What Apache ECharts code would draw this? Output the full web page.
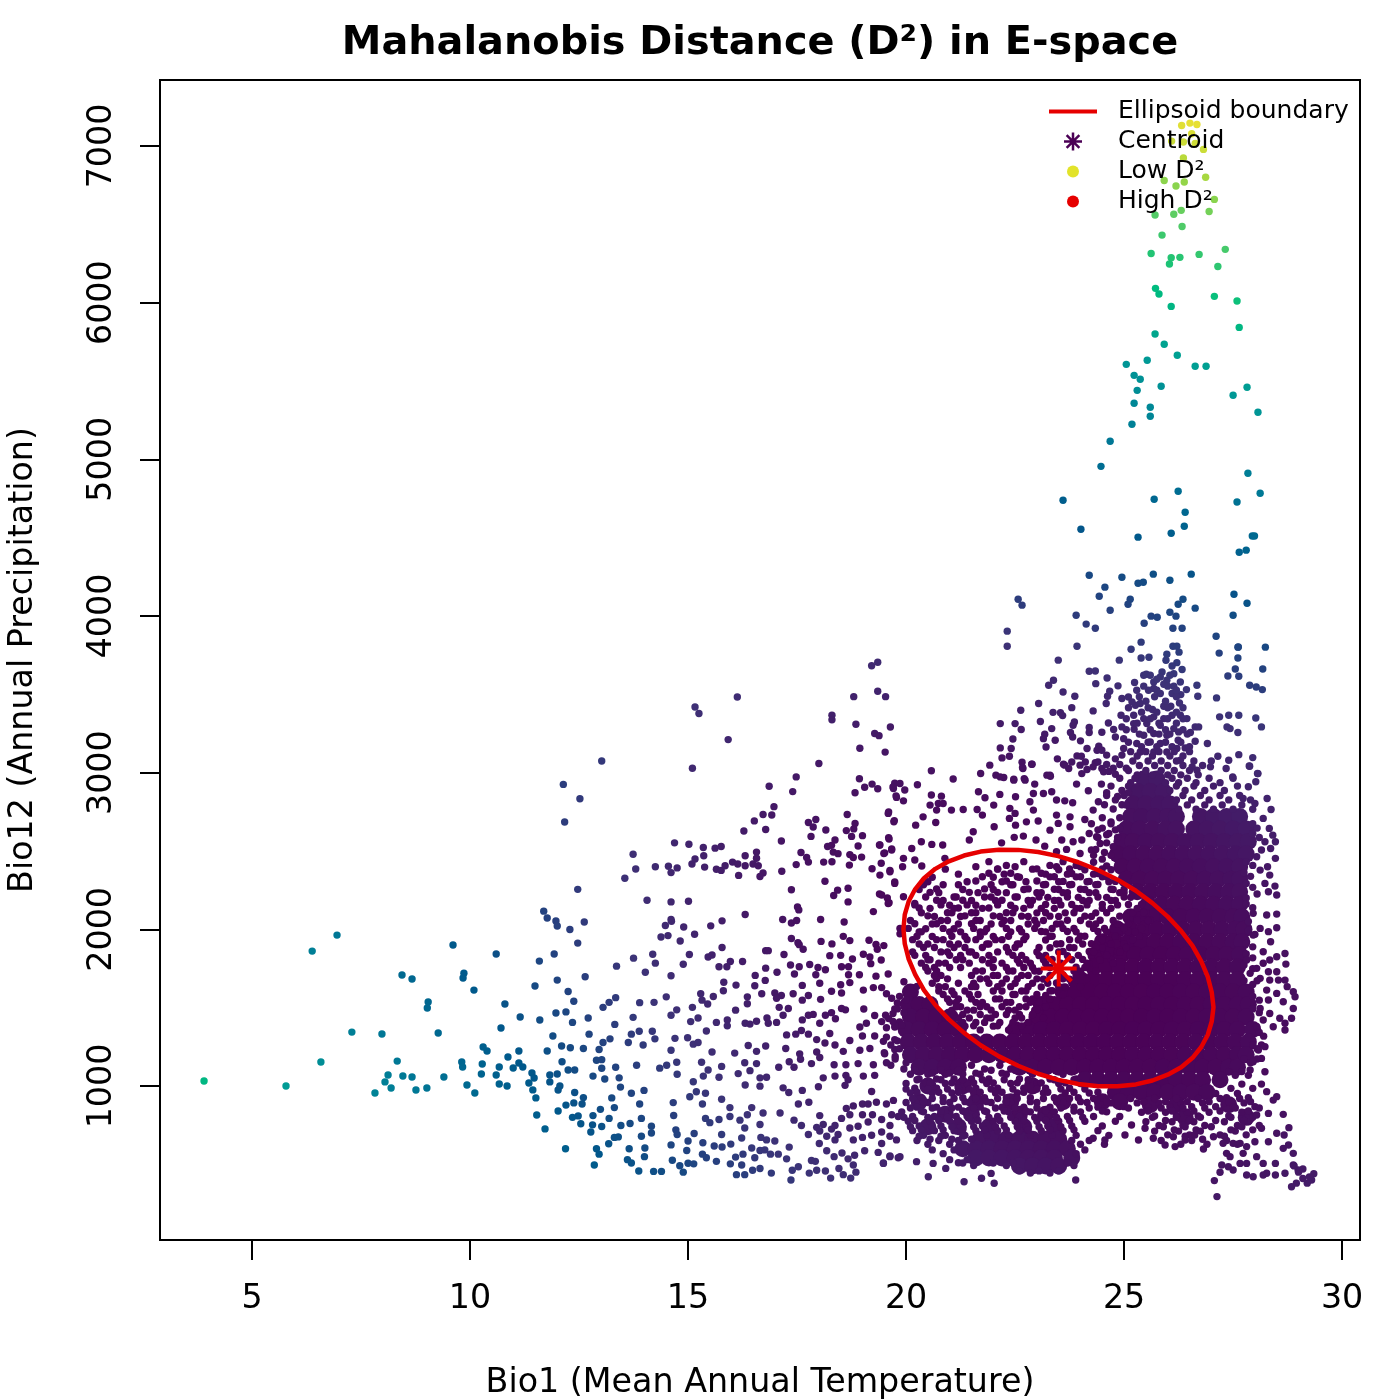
<!DOCTYPE html>
<html><head><meta charset="utf-8">
<style>html,body{margin:0;padding:0;background:#fff}#c{width:1400px;height:1400px}</style>
<script src="https://cdn.jsdelivr.net/npm/echarts@6/dist/echarts.min.js"></script>
</head><body><div id="c"></div>
<script>
const xTicks=[5,10,15,20,25,30];
const yTicks=[1000,2000,3000,4000,5000,6000,7000];
const centroid=[23.5,1750];
const ellipse=[[27.05,1503],[27.01,1412],[26.92,1327],[26.77,1249],[26.57,1180],[26.31,1120],[26.0,1072],[25.65,1035],[25.27,1010],[24.85,998],[24.41,999],[23.95,1013],[23.49,1039],[23.03,1078],[22.57,1129],[22.13,1189],[21.71,1260],[21.33,1339],[20.98,1425],[20.67,1517],[20.41,1612],[20.21,1711],[20.06,1810],[19.97,1908],[19.94,2003],[19.97,2094],[20.06,2179],[20.21,2257],[20.41,2326],[20.67,2386],[20.98,2434],[21.33,2471],[21.71,2496],[22.13,2508],[22.57,2507],[23.03,2493],[23.49,2467],[23.95,2428],[24.41,2377],[24.85,2317],[25.27,2246],[25.65,2167],[26.0,2081],[26.31,1989],[26.57,1894],[26.77,1795],[26.92,1696],[27.01,1598],[27.05,1503]];
// readings as x,y pairs
const topPts=[26.32,7131,26.51,7146,26.67,7137,26.55,7078,26.09,7031,26.36,7025,26.63,7016,26.82,6978,26.36,6923,25.92,6780,26.87,6800,26.19,6744,26.38,6770,27.07,6659,26.95,6582,25.71,6559,26.14,6564,26.31,6589,26.33,6486,25.87,6431,25.62,6314,26.08,6287,26.04,6247,26.28,6289,26.72,6308,27.32,6340,27.15,6231,25.72,6091,25.80,6055,27.07,6040,27.59,6010,26.08,5976,27.64,5842,25.71,5800,25.92,5734,26.22,5664,25.05,5606,25.53,5632,26.63,5594,26.88,5594,25.23,5536,25.37,5511,25.30,5440,25.85,5466,27.82,5460,27.50,5409,25.23,5358,25.60,5332,25.60,5275,28.07,5300,25.18,5224,24.68,5115,24.47,4955,27.84,4911,26.24,4796,25.69,4745,23.60,4739,27.59,4727,28.12,4783,26.40,4662,26.38,4573,26.08,4528,24.01,4554,25.32,4503,27.94,4510,27.99,4510,27.80,4420,27.64,4407,24.20,4260,24.95,4247,25.67,4267,26.54,4267,25.32,4209,25.44,4215,26.05,4228,24.56,4184,24.43,4126,25.14,4107,25.09,4075,22.57,4107,22.66,4069,27.52,4139,27.82,4081,26.35,4107,26.24,4075,26.63,4050,24.68,4037,26.05,4024,27.50,4005,23.90,4005,26.19,3999,25.62,3999,25.76,3992,24.13,3948,24.34,3922,22.32,3903,25.46,3954,26.12,3922,26.33,3922,27.11,3871,22.32,3807,23.92,3807,28.24,3801,27.61,3801,25.39,3833,25.16,3788,26.12,3807,26.21,3807,27.18,3763,27.61,3732,26.26,3769,25.98,3756,25.39,3732,25.57,3737,23.49,3718,24.89,3718];
const tailPts=[3.90,1032,5.78,1000,6.58,1153,6.38,1861,6.95,1963,7.29,1344,7.98,1332,8.33,1159,8.12,1070,8.05,1026,8.19,987,7.82,955,8.46,1064,8.67,1057,8.76,974,9.01,987,9.40,1057,9.27,1338,8.44,1708,8.67,1683,9.04,1536,9.02,1498,9.61,1900,10.6,1842,9.86,1720,9.84,1689,10.09,1612,10.80,1523,10.71,1370,11.15,1440,11.6,1421,11.49,1638,11.59,1797,11.93,1842,11.69,2116,11.77,2072,11.97,2053,12.0,2021,12.0,1676,11.97,1466,11.9,1319,9.81,1153,9.83,1121,10.28,1140,10.26,1077,9.93,1006,10.11,955,10.3,1249,10.39,1223,10.87,1185,10.67,1121,10.6,1070,10.67,1013,10.85,1000,10.99,1115,11.12,1147,11.21,1121,11.12,1223,11.42,1083,11.47,1051,11.35,1019,11.44,975,11.51,924,11.53,815,11.72,726,11.77,1223,11.83,1070,12.0,1077,11.83,1026,12.02,974,12.02,840];
const midPts=[13.02,3074,12.14,2925,12.52,2833,12.17,2685,15.16,3419,15.25,3378,16.13,3483,15.92,3211,15.10,3028,18.30,3366,18.30,3337,18.80,3485,19.21,3682,19.35,3705,19.35,3520,19.53,3485,18.85,3309,19.28,3250,19.38,3236,19.64,3291,18.94,3156,19.52,3131,18.0,3058,17.48,2973,16.86,2913,17.40,2879,18.93,2961,18.83,2872,19.05,2907,19.22,2927,19.35,2897,19.74,2932,19.70,2909,19.77,2852,16.97,2783,16.72,2733,16.92,2730,16.52,2692,16.28,2628,16.78,2637,14.69,2552,15.02,2543,15.35,2522,15.62,2518,15.76,2529,13.74,2479,13.55,2326,13.80,2385,14.25,2399,14.55,2403,14.61,2362,14.75,2392,15.09,2417,15.16,2449,15.36,2470,15.38,2397,15.65,2383,15.76,2376,15.85,2406,16.02,2429,16.14,2417,16.31,2470,16.31,2406,16.57,2493,16.57,2454,16.49,2417,16.61,2406,16.72,2360,16.65,2337,16.16,2344,17.15,2371,17.14,2564,17.59,2490,17.72,2458,17.76,2429,17.48,2413,17.76,2682,17.93,2701,17.87,2653,18.16,2634,17.82,2593,18.65,2733,18.83,2676,18.80,2641,18.63,2630,18.75,2593,19.0,2598,18.37,2570,18.2,2529,18.29,2536,18.33,2493,18.44,2483,18.9,2532,18.71,2477,18.79,2458,18.98,2461,18.7,2410,18.11,2429,18.3,2431,19.6,2749,19.73,2694,19.6,2584,19.39,2538,19.51,2488,19.67,2513,19.43,2422,19.22,2387,19.63,2376,19.74,2303,18.14,2307,18.43,2250,18.34,2216,18.67,2262,18.67,2175,17.37,2253,19.39,2225,19.57,2200,19.61,2170,19.25,2113,12.47,2255,14.06,2186,14.61,2175,15.01,2179,17.51,2143,17.54,2124,16.31,2095,17.17,2063,17.37,2040,17.49,2056,18.04,2063,18.58,2047,12.62,2047,12.29,1999,12.47,1912,14.61,2063,14.62,2051,14.48,2024,14.9,2015,15.52,2022,15.78,2054,14.54,1960,14.38,1951,14.82,1925,15.15,1969,17.37,1941,17.52,1914,17.55,1902,17.64,1873,18.05,1923,18.3,1907,18.56,1955,18.71,1928,19.15,1930,19.31,1903,19.34,1873,19.49,1896,19.86,2006,19.86,1971,15.78,1884,16.78,1864,16.84,1864,17.2,1839,18.25,1832,18.5,1834,15.03,1839,14.19,1841,13.75,1816,15.46,1823,15.55,1836,14.25,1784,14.89,1777,15.97,1795,15.89,1761,15.71,1761,16.25,1795,13.36,1765,14.02,1726,14.61,1704,12.64,1697,17.35,1772,17.55,1761,17.79,1775,17.98,1756,18.15,1742,17.44,1715,17.93,1710,16.78,1752,17.04,1726,16.54,1706,16.77,1674,18.52,1761,18.68,1761,18.68,1710,18.93,1710,18.71,1660,18.77,1811,19.02,1841,19.17,1823,19.19,1781,19.43,1804,19.31,1701,19.59,1715,15.82,1662,16.1,1644,16.53,1640,15.81,1608,18.02,1656,17.62,1642,18.5,1646,18.52,1594,18.29,1605,19.02,1612,19.25,1628,19.44,1628,12.25,1603,12.38,1541,13.34,1564,13.19,1534,13.05,1502,13.89,1532,14.22,1534,14.5,1569,15.29,1589,15.58,1571,15.32,1548,15.45,1523,16.36,1569,16.36,1525,16.69,1589,16.99,1594,17.14,1578,17.03,1560,17.41,1589,17.62,1548,17.76,1578,18.04,1553,19.55,1589,19.67,1560,19.74,1491,12.2,1473,12.35,1406,12.71,1434,13.32,1393,13.74,1438,14.74,1486,14.61,1452,15.1,1502,15.23,1434,15.06,1411,15.65,1406,15.9,1422,16.09,1484,15.9,1384,16.31,1400,16.42,1395,16.57,1413,16.81,1434,16.84,1400,17.03,1406,17.09,1502,17.18,1452,17.3,1495,17.62,1422,17.76,1452,17.87,1457,18.15,1452,18.29,1468,18.38,1429,18.02,1400,18.52,1495,18.61,1486,19.03,1491,19.28,1450,19.53,1452,19.44,1411,19.74,1377,19.55,1372,18.94,1377,19.09,1400,18.25,1335,12.73,1331,13.21,1301,13.05,1278,13.63,1278,13.7,1331,13.88,1349,14.18,1349,14.24,1301,14.7,1304,13.97,1262,14.99,1308,15.12,1267,15.23,1278,15.42,1351,17.26,1326,17.47,1331,17.6,1354,17.76,1331,17.95,1296,18.14,1274,18.37,1262,18.71,1290,19.0,1319,19.28,1319,19.48,1285,19.74,1296,19.74,1233,19.17,1239,18.94,1228,18.56,1221,19.51,1205,12.1,1255,12.3,1244,12.6,1239,12.96,1233,12.9,1164,13.02,1168,12.11,1155,12.4,1102,12.25,1102,12.82,1063,13.02,1113,13.09,1045,13.34,1120,13.42,1052,13.45,993,13.82,1132,14.61,1228,14.74,1152,14.35,1114,14.51,1132,14.75,1075,15.31,1152,15.55,1217,16.07,1210,16.38,1258,16.57,1221,16.78,1255,15.77,1125,15.46,1102,15.35,1063,15.12,1027,15.71,1056,16.3,1148,16.57,1143,16.42,1098,16.15,1079,17.24,1239,17.56,1205,17.58,1171,17.95,1217,18.02,1182,17.32,1155,17.43,1120,17.83,1143,18.35,1136,18.62,1136,18.9,1143,19.25,1136,17.08,1120,16.65,1052,16.8,1056,16.65,999,16.31,1006,17.18,988,17.31,958,17.62,972,17.99,995,18.1,1052,18.37,1063,18.62,1068,18.67,1040,18.6,1004,19.02,1063,19.28,1068,19.21,965,17.53,885,17.77,896,12.06,1000,12.4,958,12.6,926,12.38,892,12.2,878,12.57,885,13.25,924,13.31,862,12.99,851,12.82,811,13.19,793,13.02,741,12.81,752,12.54,759,12.48,809,12.35,800,12.77,706,12.19,599,12.9,599,12.96,565,12.85,496,13.4,675,13.31,672,13.18,631,13.46,748,13.67,761,13.93,793,13.93,679,14.16,743,14.16,700,13.65,599,14.01,604,14.0,549,13.61,530,13.7,508,13.87,457,14.21,455,14.39,455,13.99,972,13.7,954,13.89,885,14.66,894,14.67,812,14.72,720,14.75,690,15.04,931,15.19,963,15.4,954,15.33,885,15.77,915,15.96,862,15.14,697,15.0,649,14.61,624,14.97,588,15.34,638,15.77,690,14.64,526,14.81,491,14.89,450,15.0,507,15.13,503,15.4,793,15.5,766,15.71,786,15.96,805,16.19,782,16.36,816,16.72,828,17.11,828,16.65,754,16.3,732,16.23,668,16.67,672,16.8,656,16.99,649,16.46,862,17.43,782,17.6,748,17.76,690,18.01,633,18.18,587,15.6,617,15.78,611,15.33,565,15.42,542,15.65,519,15.98,629,16.46,604,16.65,588,16.76,592,16.89,565,17.07,565,17.26,535,17.32,610,16.09,546,16.26,565,16.53,542,15.97,503,16.23,496,16.48,462,16.3,434,16.11,434,16.65,473,16.91,444,17.39,462,17.53,485,17.36,400,17.78,444,17.95,462,18.15,457,18.27,412,18.56,434,18.73,412,17.83,524,17.92,519,18.35,549,18.53,572,18.67,535,18.82,558,18.79,496,18.85,450,18.46,473,18.02,811,17.95,736,18.1,754,18.02,713,18.18,679,18.29,725,18.44,690,18.37,656,18.52,793,18.71,816,18.79,873,19.0,885,19.13,885,19.32,896,19.0,816,19.23,816,19.67,816,19.44,786,19.63,748,18.71,732,18.9,743,19.13,770,19.0,672,19.21,686,19.44,706,19.63,679,19.78,656,19.44,633,19.05,587,19.36,576,19.63,553,19.48,508,18.79,656,18.37,748,19.82,805,19.82,542,19.55,885,19.71,908,18.63,857];
const upperPts=[24.2,3647,24.34,3649,23.38,3590,23.27,3558,24.35,3568,24.61,3604,24.86,3554,23.6,3515,23.87,3488,23.04,3441,22.63,3398,23.8,3415,23.37,3385,23.54,3383,23.59,3364,24.29,3394,23.08,3326,22.5,3313,22.16,3313,23.86,3324,23.83,3303,23.34,3281,22.64,3275,24.2,3288,24.2,3256,24.49,3258,24.64,3317,24.76,3275,23.18,3245,23.15,3217,22.45,3215,23.42,3207,23.77,3256,23.82,3228,24.0,3203,23.21,3164,22.41,3154,22.16,3158,24.15,3154,24.42,3169,24.38,3143,24.49,3143,22.37,3105,22.2,3094,23.47,3088,22.66,3066,22.89,3054,22.68,3026,23.61,3054,23.92,3107,24.02,3105,23.8,3068,24.11,3068,24.34,3064,24.4,3068,23.73,3026,24.15,3020,24.49,3026,24.53,3005,23.31,2977,23.23,2984,22.71,2962,22.47,2958,22.16,2973,24.03,2994,25.96,3717,26.21,3702,26.1,3681,26.33,3658,26.14,3632,25.87,3643,25.83,3611,25.45,3622,25.51,3628,25.24,3575,25.68,3579,25.98,3590,26.29,3579,25.91,3564,26.14,3551,25.68,3537,25.29,3526,25.56,3526,25.83,3505,26.1,3505,26.3,3498,26.43,3530,26.67,3558,26.69,3488,27.12,3477,24.95,3473,25.1,3483,25.26,3430,25.37,3441,25.18,3452,25.91,3424,26.07,3424,26.27,3445,24.59,3441,24.62,3488,24.67,3520,25.65,3403,24.93,3366,25.22,3366,25.45,3345,25.68,3356,25.91,3345,26.1,3366,26.29,3366,26.44,3345,25.22,3313,25.52,3313,25.83,3303,26.14,3281,24.95,3292,25.23,3277,26.63,3292,26.71,3292,26.52,3256,26.25,3260,26.63,3200,26.91,3186,26.24,3207,26.4,3158,26.21,3154,24.8,3228,24.99,3217,25.45,3239,25.68,3250,25.98,3239,25.29,3186,25.6,3196,25.83,3186,24.99,3154,25.37,3132,25.68,3132,25.98,3132,27.19,3356,27.4,3366,27.63,3366,28.02,3349,28.15,3292,27.36,3292,27.43,3281,27.61,3256,27.15,3105,27.63,3115,27.95,3096,27.4,3079,27.34,3026,27.88,3041,28.07,2994,27.49,2973,26.98,3037,26.67,3015,26.29,3079,26.56,3037,27.62,3802,27.55,3662,27.38,3617,27.63,3615,28.18,3662,27.88,3558,28.03,3547,28.17,3530,20.58,3012,21.08,2959,21.71,2995,21.92,3048,22.06,2984,22.24,2969,22.47,2952,22.73,2952,22.95,2927,22.88,3054,22.67,3033,23.3,2984,23.91,2927,24.18,2884,24.48,2927,23.99,3048,24.29,3037,23.64,3048,19.86,2931,19.71,2899,19.97,2889,20.26,2923,19.78,2842,19.94,2820,20.58,2857,20.81,2850,20.74,2803,20.55,2793,20.85,2803,20.7,2761,21.04,2761,21.31,2765,21.63,2765,21.75,2729,21.66,2878,21.81,2840,22.15,2861,22.51,2846,22.01,2793,22.38,2772,22.5,2740,22.37,2708,22.51,2665,22.02,2655,22.92,2867,23.15,2867,23.34,2878,22.84,2814,22.92,2761,22.76,2686,23.03,2691,23.3,2633,23.45,2825,23.64,2820,23.82,2808,23.76,2718,23.45,2729,23.49,2676,23.76,2655,24.1,2701,24.29,2761,24.41,2814,19.59,2740,19.72,2686,20.22,2665,20.39,2718,20.68,2682,21.54,2623,19.61,2576,20.35,2559,20.59,2542,20.84,2538,21.45,2570,22.19,2552,22.48,2587,22.69,2595,22.98,2570,23.18,2531,23.57,2570,23.83,2559,24.03,2570,24.37,2591,23.99,2484,24.25,2506,24.45,2548,23.45,2495,23.68,2510,19.4,2538,19.67,2506,19.49,2484,20.13,2516,19.94,2453,20.2,2442,20.89,2453,19.92,2399,20.36,2404,19.63,2367,19.74,2293,19.4,2346,19.44,2219,19.59,2165,19.94,2208,20.2,2165];
const rightPts=[27.87,3042,28.06,2995,28.02,2942,27.85,2910,27.73,2835,28.28,2835,28.37,2765,28.0,2803,28.19,2708,28.33,2644,28.41,2601,28.47,2559,28.23,2559,28.36,2516,28.15,2506,28.47,2453,28.04,2463,28.29,2399,28.12,2378,28.34,2346,28.23,2293,28.46,2276,28.05,2225,28.31,2240,28.5,2219,28.5,2097,28.27,2091,27.96,2102,28.12,2006,28.31,1985,28.5,2010,27.96,1963,28.36,1921,28.19,1857,28.69,1846,28.5,1825,28.34,1804,27.81,1804,28.19,1783,28.71,1778,28.04,1751,27.89,1719,28.31,1729,28.5,1729,28.54,1676,28.34,1676,28.12,1687,28.69,1676,28.74,1634,28.88,1602,28.27,1612,28.5,1591,28.92,1570,28.31,1549,28.65,1538,28.88,1495,28.12,1495,28.34,1463,28.57,1432,28.84,1432,28.19,1421,28.69,1400,28.42,1378,28.69,1357,28.04,1378,28.08,1229,28.23,1251,27.96,1155,28.15,1176,28.23,1091,27.89,1102,28.27,964,28.5,932,28.42,910,28.65,819,28.04,815,28.31,825,28.78,734,28.15,730,28.5,698,28.67,687,28,644,28.31,644,28.77,623,28.88,570,28.65,602,28.47,506,28.88,496,28.99,464,28.69,443,28.84,357,28.47,432,28.27,443,29.35,440,29.3,400,29.2,380,29.1,410,29.0,450,28.9,490,29.1,470,28.95,380,29.25,420,27.13,294,27.07,396,27.2,449,27.24,496,27.43,549,27.73,570,27.81,506,28.04,549,28.19,506,27.96,421,27.81,432,27.5,464,27.35,570,27.66,506,28.19,432,27.39,485,27.27,634,27.5,634,27.81,613,27.66,634,20.51,421,21.33,389,21.73,411,21.95,442,22.02,379,23.89,400,20.91,474,20.62,506,20.24,517,19.86,549,19.48,506,19.63,549,24.56,655,25.02,687,25.33,655,25.67,666,25.94,623,26.17,613,26.4,655,26.82,598,24.29,666,25.17,751,25.48,730,26.13,676,26.62,687,27.05,676];
// clumps of points, [annual precipitation, [temperatures]]
const fieldRows=[
[2872,[24.6,25.1]],[2848,[24.85]],[2795,[24.55,24.95]],[2768,[24.75]],[2712,[24.5,24.9]],[2686,[24.7]],[2635,[24.4,24.8]],[2604,[24.6]],[2552,[24.6]],[2528,[24.75]],
[2432,[21.9,22.7,23.6]],[2408,[22.3,23.3,23.9]],[2428,[24.3]],[2405,[24.6]],
[2384,[20.9,22.1,22.9]],[2358,[21.9,22.4,23.1]],[2380,[23.5,24.1,24.7]],[2356,[23.8,24.4]],
[2332,[20.6,22.0,22.6]],[2308,[21.6,22.3,23.0]],[2335,[23.3,23.9,24.5]],[2306,[23.6,24.2,24.8]],
[2284,[20.4,21.2,22.4]],[2258,[20.7,21.8,22.8]],[2286,[23.2,23.8,24.4]],[2256,[23.4,24.0,24.7,25.0]],
[2236,[20.55,21.45,22.1]],[2206,[21.1,21.95,22.55]],[2234,[23.0,23.6,24.2,24.9]],[2204,[23.25,23.95,24.6,25.15]],
[2186,[20.7,21.3,22.2]],[2154,[21.0,21.6,22.4]],[2184,[22.9,23.5,24.2,24.8]],[2158,[23.2,23.8,24.5,25.1,25.4]],
[2136,[20.3,21.2,21.9]],[2106,[20.95,21.5,22.3]],[2134,[22.7,23.4,24.0,24.7]],[2105,[23.0,23.65,24.35,25.2,25.5]],
[2086,[20.5,21.35,22.0]],[2056,[20.8,21.7,22.25]],[2084,[22.65,23.3,24.1,24.9]],[2058,[22.95,23.7,24.45,25.3,25.6]],
[2036,[20.2,20.7,21.5,22.2]],[2004,[20.45,21.1,21.85,22.6]],[2034,[23.0,23.55,24.2,24.85]],[2006,[23.35,23.85,24.55,25.4]],
[1984,[20.3,21.0,21.7,22.4]],[1954,[20.6,21.35,22.0,22.75]],[1986,[23.1,23.7,24.4,25.1]],[1956,[23.3,24.0,24.7,25.35]],
[1934,[20.15,20.85,21.6,22.2]],[1906,[20.5,21.2,21.9,22.55]],[1932,[23.2,23.95,24.65]],[1908,[23.55,24.25,25.0]],
[1884,[20.4,21.1,21.75,22.5]],[1856,[20.8,21.5,22.1]],[1882,[23.3,23.85,24.5]],[1858,[23.6,24.2,24.85]],
[1834,[20.2,21.0,21.6,22.45]],[1806,[20.55,21.3,22.0,22.75]],[1832,[23.05,23.7,24.4]],[1808,[23.35,24.05,24.7]],
[1784,[20.35,20.9,21.9,22.6]],[1756,[20.65,21.25,22.3,22.9]],[1782,[23.2,24.2]],[1758,[23.9]],
[1734,[20.5,21.6,22.45]],[1706,[20.8,22.1,22.8]],[1732,[23.05,24.0]],[1708,[23.6]],
[1684,[20.7,21.85,22.55]],[1656,[21.55,22.2,22.9]],[1682,[23.15,23.75]],[1658,[23.45]],[1665,[19.95]],[1636,[20.25]],
[1634,[20.75,21.5,22.4]],[1606,[21.05,22.0,22.65]],[1632,[23.1,23.65]],[1608,[23.35]],
[1584,[20.85,21.45,22.5]],[1556,[21.2,22.05,22.9]],[1578,[23.2]],
[1534,[21.0,21.6,22.3,22.85]],[1506,[21.25,21.85,22.6,23.1]],[1530,[19.8]],
[1484,[21.05,21.55,22.35,22.95]],[1456,[21.3,22.05,22.6]],[1462,[19.7]],
[1434,[21.2,21.85,22.5]],[1406,[21.6,22.15,22.8]],[1430,[19.6]],[1408,[19.85]],
[1382,[21.35,22.0,19.75]],[1358,[21.7,22.35]],[1312,[19.55]],[1288,[19.8]],[1212,[19.5]],[1188,[19.75]],[1132,[19.65,21.5,22.15]],[1108,[19.95,21.8,22.4]],
[1075,[20.1,20.5,20.9,21.3,21.7,22.3,22.9,23.6]],[1045,[20.3,20.7,21.1,21.5,21.9,22.6,23.3,23.9]],
[1016,[20.0,20.45,20.9,21.4,21.85,22.4,23.0,23.5,24.0]],[986,[20.2,20.7,21.2,21.6,22.1,22.7,23.2,23.75]],[1012,[27.2,27.7,28.15]],[985,[27.45,27.95]],
[955,[20.1,20.6,21.05,21.55,22.05,22.55,23.15,23.65,24.2]],[925,[20.35,20.85,21.3,21.8,22.3,22.85,23.4,23.95,24.5]],[952,[27.1,27.6]],[926,[27.35,27.85]],
[895,[20.0,20.5,21.0,21.45,21.95,22.4,23.0,23.6,24.15]],[865,[20.25,20.7,21.2,21.7,22.2,22.7,23.3,23.85,24.4]],[892,[24.7,25.3,25.8,26.3,26.8,27.3,27.75]],[868,[25.0,25.55,26.05,26.55,27.1,27.5,28.0]],
[835,[19.9,20.4,20.9,21.35,21.85,22.35,22.85,23.4,24.0,24.6]],[805,[20.15,20.65,21.15,21.6,22.1,22.6,23.1,23.7,24.3,24.9]],[832,[25.4,25.95,26.45,26.95,27.7]],[808,[25.7,26.2,26.7,27.4,27.95]],
[775,[20.05,20.55,21.0,21.5,22.0,22.5,23.0,23.5,24.1,24.8]],[745,[20.3,20.8,21.25,21.75,22.25,22.75,23.25,23.8,24.5]],[772,[25.5,26.1,26.6,27.3,27.85]],[748,[25.8,26.35,26.85,27.6,28.1]],
[715,[20.15,20.65,21.1,21.6,22.1,22.6,23.1,23.6,24.4]],[685,[20.4,20.9,21.35,21.85,22.35,22.85,23.35,23.9,24.65]],[712,[25.7,26.25,26.75,27.55]],[688,[26.0,26.5,27.2,27.8]],
[652,[20.25,20.75,21.2,23.8,24.2,25.85,26.55,27.35]],[628,[20.5,21.0,24.0,24.55,26.3,26.9,27.6]],
[592,[20.6,21.1,24.1]],[568,[20.85,23.9]],[530,[21.0,21.4]],[510,[21.2]]];
const columnRows=[
[3622,[25.6,26.05]],[3596,[25.75]],[3552,[25.45,26.0]],[3526,[25.75,26.2]],[3484,[25.35,25.7,26.2]],[3456,[25.5,25.95]],
[3414,[25.1,25.55,26.0,26.35]],[3386,[25.4,25.75,26.2]],[3344,[25.05,25.6,26.0,26.35]],[3316,[25.3,25.8,26.2]],
[3274,[25.05,25.6,25.95,26.35]],[3246,[25.35,25.8,26.05,26.45]],[3194,[25.1,25.55,25.95,26.3]],[3166,[25.4,25.75,26.1,26.5]],
[3134,[25.15,25.5,25.8,26.15,26.5]],[3106,[25.3,25.65,26.05,26.35]],[3112,[24.6,24.95]],[3088,[24.8]],
[3074,[25.2,25.55,25.85,26.2,26.6,27.0]],[3046,[25.35,25.7,26.0,26.35,26.8]],[3052,[24.6,24.9]],[3028,[24.75,25.05]],
[3014,[25.1,25.5,25.85,26.15,26.5]],[2986,[25.3,25.65,26.0,26.3,26.7]],[3008,[24.65]],[2990,[24.8]],
[2964,[24.9,25.25,26.1,26.45,26.95,27.5]],[2936,[25.15,25.95,26.25,26.65,27.2]],
[2914,[24.7,25.1,26.2,26.6,27.05,27.6]],[2886,[24.95,26.05,26.4,26.85,27.3]],
[2854,[24.6,25.0,26.35,26.75,27.2,27.65]],[2826,[24.8,26.2,26.55,26.95,27.4,27.9]],
[2794,[25.05,26.45,26.85,27.25,27.7]],[2766,[26.25,26.65,27.05,27.5,27.95]],
[2674,[27.95,24.25,24.7]],[2646,[28.05,24.5,24.9]],[2612,[27.95,24.2,24.65]],[2586,[28.1,24.4,24.85]],
[2510,[24.35]],[2490,[24.55]],[2472,[24.3,24.7]],[2448,[24.5]],[2430,[27.8]],[2408,[27.95]],[2362,[27.75]],[2338,[27.9]],[2292,[27.8]],[2268,[27.95]],[2200,[27.8]],
[2162,[27.8]],[2138,[27.95]],[2050,[27.85]],[1992,[27.85]],[1968,[28.0]],[1912,[27.8]],[1888,[27.95]],[1842,[27.8]],[1818,[27.95]],[1772,[27.75]],[1748,[27.95]],
[1672,[27.75,28.05]],[1648,[27.95]],[1572,[27.95,19.85]],[1548,[28.1,20.0]],[1492,[27.95,19.8]],[1468,[28.1,19.95]],[1412,[19.7]],[1388,[19.9]],
[1342,[28.1]],[1318,[28.2]],[1262,[27.95,28.15,19.65]],[1238,[28.05,19.85]],[1172,[27.75,28.05,19.75]],[1148,[27.9,19.55,20.0]],[1092,[27.4,27.7]],[1068,[27.55,27.85]]];
const ellipseRows=[
[2400,[21.6,22.5,23.45,24.0]],[2386,[22.1,23.0,23.75,24.5]],
[2352,[21.2,22.25,23.2,23.7,24.3]],[2336,[21.75,22.55,23.4,24.0,24.6]],
[2304,[20.5,21.4,22.2,22.75,23.5,24.15,24.65]],[2284,[20.85,21.95,22.45,23.15,23.75,24.35]],
[2254,[20.3,21.3,22.0,22.7,23.5,24.1,24.75]],[2234,[20.75,21.65,22.3,23.1,23.7,24.35,25.0]],
[2206,[20.45,21.15,21.8,22.5,23.05,23.7,24.4,25.0]],[2184,[20.85,21.5,22.05,22.8,23.4,24.05,24.7]],
[2156,[20.2,20.8,21.4,22.1,22.85,23.55,24.15,24.85]],[2134,[20.55,21.1,21.75,22.5,23.1,23.9,24.5,25.3]],
[2106,[20.35,21.05,21.6,22.45,23.2,23.85,24.6,25.45]],[2082,[20.65,21.25,22.15,22.8,23.5,24.25,25.05]],
[2056,[20.1,20.95,21.6,22.4,23.15,24.0,24.75,25.55]],[2034,[20.6,21.2,21.95,22.8,23.45,24.35,25.1]],
[2006,[20.05,20.85,21.55,22.3,22.95,23.6,24.3,25.0]],[1984,[20.35,21.25,21.8,22.65,23.2,23.9,24.6,25.25]],
[1956,[20.25,21.05,21.7,22.35,23.35,24.1,24.8]],[1934,[20.7,21.4,22.05,22.7,23.75,24.5,25.2]],
[1906,[20.3,21.0,21.85,22.6,23.45,24.05,24.7]],[1884,[20.65,21.35,22.3,23.05,23.75,24.35,25.05]],
[1856,[20.15,20.95,21.45,22.35,23.0,23.5,24.3,24.9]],[1834,[20.45,21.25,21.9,22.65,23.2,23.95,24.6]],
[1806,[20.5,21.15,21.75,22.55,23.15,23.8,24.45]],[1784,[20.75,21.45,22.2,22.85,23.55,24.15,24.75]],
[1756,[20.45,21.0,22.0,22.7,23.3,24.1]],[1734,[20.7,21.75,22.35,22.95,23.85,24.35]],
[1706,[20.65,21.5,22.0,22.65,23.3,23.9]],[1684,[20.95,21.7,22.3,23.0,23.6,24.15]],
[1656,[20.6,21.2,21.9,22.5,23.25,23.8]],[1634,[20.9,21.6,22.1,22.8,23.5,24.0]],
[1606,[20.75,21.35,22.2,22.75,23.3]],[1584,[21.1,21.65,22.45,23.0,23.6]],
[1556,[20.95,21.5,22.15,22.75,23.3]],[1534,[21.15,21.75,22.4,23.05]],
[1506,[21.15,21.7,22.2,22.75,23.2]],[1484,[21.4,21.95,22.5,23.0]],
[1456,[21.1,21.7,22.3,22.9]],[1434,[21.45,21.95,22.65,23.15]],
[1406,[21.3,21.8,22.45]],[1384,[21.55,22.1,22.65]]];
const floorRows=[
[1100,[20.2,20.8,21.2,21.95,22.5]],[1082,[20.6,21.0,21.6,22.2]],
[1040,[20.25,20.8,21.3,21.75,22.25,22.8,23.4,23.85]],[1020,[20.55,21.05,21.55,22.0,22.55,23.1,23.65]],
[980,[20.0,20.5,20.95,21.45,21.95,22.45,23.0,23.55,24.1]],[960,[20.25,20.75,21.2,21.7,22.2,22.7,23.25,23.85,24.4]],
[920,[20.15,20.6,21.1,21.6,22.1,22.55,23.15,23.75,24.3,25.15,25.7,26.2,26.7,27.2,27.65]],[900,[20.4,20.85,21.35,21.85,22.3,22.85,23.45,24.0,24.6,25.45,25.95,26.45,26.95,27.4,27.9]],
[860,[20.1,20.6,21.05,21.55,22.05,22.5,23.0,23.55,24.2,25.1,25.85,26.35,26.85,27.55,28.1]],[840,[20.35,20.8,21.3,21.8,22.25,22.75,23.2,23.85,24.5,25.55,26.1,26.6,27.2,27.85]],
[800,[19.95,20.5,20.95,21.45,21.9,22.4,22.95,23.45,24.05,25.65,26.2,26.75,27.45,27.95]],[780,[20.2,20.75,21.2,21.65,22.15,22.7,23.2,23.75,25.95,26.5,27.1,27.75]],
[740,[20.1,20.6,21.05,21.55,22.05,22.55,23.05,23.55,25.9,26.4,27.0,27.7]],[720,[20.35,20.85,21.3,21.8,22.3,22.8,23.3,23.85,26.15,26.65,27.45,27.95]],
[680,[20.3,20.8,21.3,26.4,27.3]],[660,[20.55,21.05,21.5,26.8]],
[508,[21.3,22.0,22.45,23.7]],[492,[21.55,22.3,23.85]],[458,[22.6,23.05,23.5]],[444,[22.85,23.3]]];
// thickly overplotted mass, drawn with a wider dot
const massRows=[
[2960,[25.45,25.75]],[2880,[25.3,25.6,25.9]],[2800,[25.2,25.5,25.8,26.05]],
[2720,[25.15,25.4,25.7,26.0,26.2,26.75,27.05,27.35,27.65]],
[2640,[25.05,25.35,25.65,25.95,26.2,26.6,26.9,27.2,27.5,27.8]],
[2560,[24.95,25.2,25.5,25.8,26.1,26.4,26.7,27.0,27.3,27.6,27.85]],
[2480,[24.85,25.15,25.45,25.75,26.05,26.35,26.65,26.95,27.25,27.55,27.8]],
[2400,[24.95,25.25,25.55,25.85,26.15,26.45,26.75,27.05,27.35,27.65]],
[2320,[25.05,25.35,25.65,25.95,26.25,26.55,26.85,27.15,27.45,27.65]],
[2240,[25.3,25.6,25.9,26.2,26.5,26.8,27.1,27.4,27.65]],
[2160,[25.55,25.85,26.15,26.45,26.75,27.05,27.35,27.65]],
[2080,[25.15,25.4,25.7,26.0,26.3,26.6,26.9,27.2,27.5,27.7]],
[2000,[24.85,25.15,25.45,25.75,26.05,26.35,26.65,26.95,27.25,27.55,27.75]],
[1920,[24.5,24.8,25.1,25.4,25.7,26.0,26.3,26.6,26.9,27.2,27.5,27.7]],
[1840,[24.35,24.65,24.95,25.25,25.55,25.85,26.15,26.45,26.75,27.05,27.35,27.65]],
[1760,[24.3,24.6,24.9,25.2,25.5,25.8,26.1,26.4,26.7,27.0,27.3,27.6]],
[1680,[24.0,24.3,24.6,24.9,25.2,25.5,25.8,26.1,26.4,26.7,27.0,27.3,27.6]],
[1600,[20.1,23.6,23.9,24.2,24.5,24.8,25.1,25.4,25.7,26.0,26.3,26.6,26.9,27.2,27.5,27.8]],
[1520,[20.05,20.3,20.55,23.1,23.4,23.7,24.0,24.3,24.6,24.9,25.2,25.5,25.8,26.1,26.4,26.7,27.0,27.3,27.6,27.85]],
[1440,[20.1,20.4,20.7,21.0,23.0,23.3,23.6,23.9,24.2,24.5,24.8,25.1,25.4,25.7,26.0,26.3,26.6,26.9,27.2,27.5,27.8]],
[1360,[20.0,20.3,20.6,20.9,21.2,22.5,22.8,23.1,23.4,23.7,24.0,24.3,24.6,24.9,25.2,25.5,25.8,26.1,26.4,26.7,27.0,27.3,27.6,27.95]],
[1280,[20.05,20.35,20.65,20.95,21.25,21.55,21.85,22.15,22.45,22.75,23.05,23.35,23.65,23.95,24.25,24.55,24.85,25.15,25.45,25.75,26.05,26.35,26.65,26.95,27.25,27.55,27.85]],
[1200,[20.1,20.4,20.7,21.0,21.3,21.6,21.9,22.2,22.5,22.8,23.1,23.4,23.7,24.0,24.3,24.6,24.9,25.2,25.5,25.8,26.1,26.4,26.7,27.0,27.3,27.6,27.8]],
[1120,[20.3,20.6,20.9,21.2,22.6,22.9,23.2,23.5,23.8,24.1,24.4,24.7,25.0,25.3,25.6,25.9,26.2,26.5,26.8,27.1,27.4,27.6]],
[1040,[24.1,24.4,24.7,25.0,25.3,25.6,25.9,26.2,26.5,26.8,27.2]],
[1000,[20.5,21.3,22.9]],
[960,[24.8,25.1,25.4,25.7,26.0,26.3,26.6,26.9]],
[900,[20.3,21.6,22.4,23.6,24.5,24.9]],[880,[25.6,26.2,27.4]],
[820,[20.9,21.5,22.6,23.2]],[800,[26.4,27.8]],
[740,[20.5,21.2,21.9,22.7,23.4]],
[660,[21.7,22.0,22.3,22.6,22.9,23.2,23.5]],
[600,[21.3,21.6,21.9,22.2,22.5,22.8,23.1,23.4,23.7]],
[540,[21.6,21.9,22.2,22.5,22.8,23.1,23.4,23.8]],
[490,[22.6,22.9,23.2,23.5]]];
const axisMin=[2.89,17], axisMax=[30.41,7421];
const palette=['#4B0055','#3D3277','#00588B','#007B96','#009B95','#00BE7D','#53CC67','#B5DA3A','#FDE333'];

// Mahalanobis D² of a point, from the centroid and correlation of the plotted ellipsoid
const sd=[3.555,756], rho=-0.33;
function d2(x,y){const u=(x-23.49)/sd[0], v=(y-1753)/sd[1];return (u*u+v*v-2*rho*u*v)/(1-rho*rho);}
const fromPairs=a=>{const o=[];for(let i=0;i<a.length;i+=2)o.push([a[i],a[i+1],d2(a[i],a[i+1])]);return o;};
const fromRows=r=>r.flatMap(([y,xs])=>xs.map(x=>[x,y,d2(x,y)]));
const dots=[...fromPairs(tailPts),...fromPairs(midPts),...fromPairs(upperPts),...fromRows(fieldRows),...fromRows(columnRows),...fromRows(ellipseRows),...fromRows(floorRows),...fromPairs(rightPts),...fromPairs(topPts)];
const mass=fromRows(massRows);
const star='path://M0,-10L0,10M-10,0L10,0M-7.07,-7.07L7.07,7.07M-7.07,7.07L7.07,-7.07';
const legendDot='path://M-9,-9M9,9M-6,0A6,6 0 1 1 6,0A6,6 0 1 1 -6,0Z';
const font='"DejaVu Sans"';
const axisBase=ticks=>({type:'value',
  axisLine:{show:true,onZero:false,lineStyle:{color:'#000',width:2}},
  axisTick:{show:true,length:20,customValues:ticks,lineStyle:{color:'#000',width:2}},
  splitLine:{show:false}});
const chart=echarts.init(document.getElementById('c'),null,{renderer:'canvas'});
chart.setOption({
  animation:false,backgroundColor:'#fff',
  textStyle:{fontFamily:font},
  title:{text:'Mahalanobis Distance (D²) in E-space',left:755,top:19,textAlign:'center',
    textStyle:{fontFamily:font,fontWeight:'bold',fontSize:39.8,color:'#000'}},
  grid:{left:160,right:40,top:80,bottom:160,outerBoundsMode:'none',show:true,borderColor:'#000',borderWidth:2,backgroundColor:'transparent'},
  xAxis:Object.assign(axisBase(xTicks),{min:axisMin[0],max:axisMax[0],
    name:'Bio1 (Mean Annual Temperature)',nameLocation:'middle',nameGap:127,
    nameTextStyle:{fontFamily:font,fontSize:33.3,color:'#000'},
    axisLabel:{customValues:xTicks,fontFamily:font,fontSize:33.3,color:'#000',margin:43,formatter:v=>String(v)}}),
  yAxis:Object.assign(axisBase(yTicks),{min:axisMin[1],max:axisMax[1],
    name:'Bio12 (Annual Precipitation)',nameLocation:'middle',nameGap:120,
    nameTextStyle:{fontFamily:font,fontSize:33.3,color:'#000'},
    axisLabel:{customValues:yTicks,rotate:90,fontFamily:font,fontSize:33.3,color:'#000',margin:41,formatter:v=>String(v)}}),
  visualMap:{show:false,seriesIndex:[0,1],dimension:2,min:0,max:65,inRange:{color:palette}},
  legend:{left:1049,top:99,padding:0,orient:'vertical',align:'left',itemWidth:48,itemHeight:18,itemGap:5,
    backgroundColor:'transparent',z:20,
    textStyle:{fontFamily:font,fontSize:25,color:'#000',padding:[0,0,0,16]},
    data:[
      {name:'Ellipsoid boundary',icon:'path://M0,0H48V4H0Z',itemStyle:{color:'#E60000',opacity:1}},
      {name:'Centroid',icon:star,itemStyle:{color:'none',borderColor:'#4B0055',borderWidth:2.5,opacity:1}},
      {name:'Low D²',icon:legendDot,itemStyle:{color:'#E2E32A',opacity:1}},
      {name:'High D²',icon:legendDot,itemStyle:{color:'#E60000',opacity:1}}]},
  series:[
    {name:'Dense points',type:'scatter',data:mass,symbol:'circle',symbolSize:17,silent:true,z:2,itemStyle:{opacity:1}},
    {name:'Points',type:'scatter',data:dots,symbol:'circle',symbolSize:7.4,silent:true,z:3,itemStyle:{opacity:1}},
    {name:'Ellipsoid boundary',type:'line',data:ellipse,smooth:false,symbol:'none',z:5,
      lineStyle:{color:'#E60000',width:4.5,opacity:1,cap:'round',join:'round'},itemStyle:{color:'#E60000',opacity:1}},
    {name:'Centroid',type:'scatter',data:[centroid],symbol:star,symbolSize:36,z:6,
      itemStyle:{color:'none',borderColor:'#E60000',borderWidth:4,opacity:1}},
    {name:'Low D²',type:'scatter',data:[],symbol:'circle',itemStyle:{color:'#E2E32A',opacity:1}},
    {name:'High D²',type:'scatter',data:[],symbol:'circle',itemStyle:{color:'#E60000',opacity:1}}
  ]
});
</script></body></html>
